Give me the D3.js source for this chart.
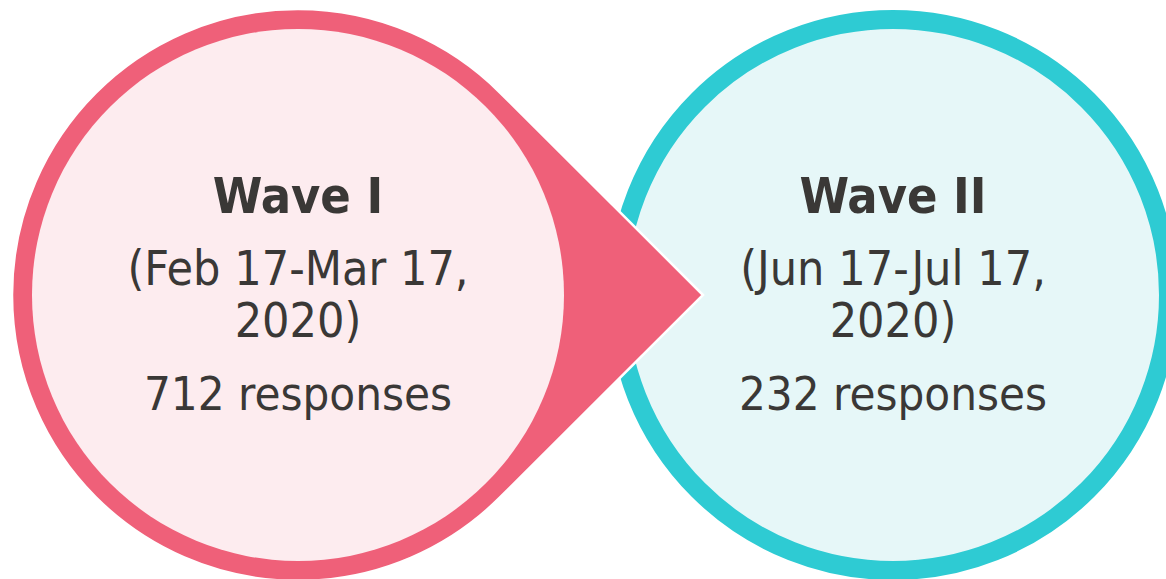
<!DOCTYPE html>
<html>
<head>
<meta charset="utf-8">
<script src="https://cdn.jsdelivr.net/npm/d3@7"></script>
<style>
html,body{margin:0;padding:0;background:#fff;}
svg{display:block;}
text{font-family:"DejaVu Sans Condensed","DejaVu Sans",sans-serif;font-stretch:condensed;fill:#3a3836;}
</style>
</head>
<body>
<svg id="chart" width="1166" height="579"></svg>
<script>
// Data
const waves = ["Wave I", "Wave II"];
const dateLines1 = ["(Feb 17-Mar 17,", "(Jun 17-Jul 17,"];
const dateLines2 = ["2020)", "2020)"];
const responses = [712, 232];
const ringColors = ["#ef6079", "#2ecbd3"];
const fillColors = ["#fdecef", "#e6f7f8"];

const W = 1166, H = 579;
const svg = d3.select("#chart");

const x = d3.scalePoint().domain(waves).range([298, 893]);
const cy = 295;
const rOuter = 285, ring = 19, rInner = rOuter - ring;

// Teal circle (drawn first, under the pink arrow)
const w2 = waves[1];
svg.append("circle")
  .attr("cx", x(w2)).attr("cy", cy).attr("r", rOuter - ring / 2)
  .attr("fill", fillColors[1])
  .attr("stroke", ringColors[1]).attr("stroke-width", ring);

// Pink teardrop (circle + arrow tip)
const w1 = waves[0];
const c1 = x(w1);
const tipX = c1 + 405;
const R = rOuter + 1;
const d = tipX - c1;
const th = Math.acos(R / d);
const p1 = [c1 + R * Math.cos(th), cy - R * Math.sin(th)];
const path = d3.path();
path.moveTo(tipX, cy);
path.lineTo(p1[0], p1[1]);
path.arc(c1, cy, R, -th, th, true);
path.closePath();
svg.append("path")
  .attr("d", path.toString())
  .attr("fill", ringColors[0])
  .attr("stroke", "#ffffff").attr("stroke-width", 2.5)
  .attr("stroke-linejoin", "miter");
svg.append("circle")
  .attr("cx", c1).attr("cy", cy).attr("r", rInner)
  .attr("fill", fillColors[0]);

// Text
const g = svg.selectAll("g.lbl").data(waves).join("g").attr("class", "lbl")
  .attr("transform", d => `translate(${x(d)},0)`);
g.append("text").attr("text-anchor", "middle").attr("y", 213)
  .style("font-size", "50px").style("font-weight", "bold")
  .text(d => d);
g.append("text").attr("text-anchor", "middle").attr("y", 285)
  .style("font-size", "48px")
  .text((d, i) => dateLines1[i]);
g.append("text").attr("text-anchor", "middle").attr("y", 337)
  .style("font-size", "48px")
  .text((d, i) => dateLines2[i]);
g.append("text").attr("text-anchor", "middle").attr("y", 410)
  .style("font-size", "47px")
  .text((d, i) => responses[i] + " responses");
</script>
</body>
</html>
